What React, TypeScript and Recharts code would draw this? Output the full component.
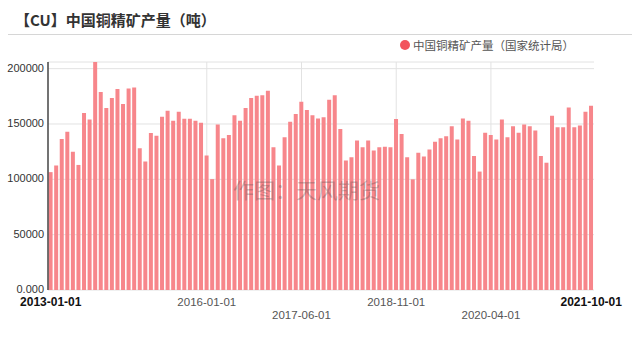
import { BarChart, Bar, XAxis, YAxis, CartesianGrid } from 'recharts'

// monthly output, tonnes
const outputTons = [
  106500, 112500, 136500, 143000, 125000, 113000, 160000, 154000, 206000, 179000,
  164500, 173500, 181500, 168000, 182000, 183000, 128000, 116000, 141800, 139400,
  156600, 162000, 153000, 161000, 154800, 154800, 153000, 151000, 121600, 100200,
  149600, 137000, 140000, 158000, 153000, 164500, 173500, 175600, 176000, 180000,
  129000, 112500, 138000, 152000, 159000, 170000, 162600, 158000, 155000, 156000,
  172000, 176000, 145400, 117000, 120000, 135000, 129000, 135000, 126000, 129000,
  129500, 129000, 154500, 141000, 120000, 100000, 124000, 120700, 127000, 134000,
  137000, 139000, 148000, 136000, 155000, 153000, 121000, 107000, 142000, 140000,
  136000, 154000, 138000, 148000, 142000, 149600, 148000, 144000, 121000, 115000,
  157500, 147000, 147000, 165000, 147000, 148700, 161000, 166500,
]

// months not published in the source series
const missingMonths = [
  '2013-02', '2014-01', '2014-02', '2014-12', '2015-01', '2015-02', '2015-07', '2015-08',
]

const xTickDates = ['2013-01-01', '2016-01-01', '2017-06-01', '2018-11-01', '2020-04-01', '2021-10-01']
const gridDates = ['2016-01-01', '2017-06-01', '2018-11-01', '2020-04-01']
const yTicks = [0, 50000, 100000, 150000, 200000]

function buildDates() {
  const out: string[] = []
  for (let y = 2013; y <= 2021; y++) {
    for (let m = 1; m <= 12; m++) {
      if (y === 2021 && m > 10) break
      const ym = `${y}-${String(m).padStart(2, '0')}`
      if (missingMonths.includes(ym)) continue
      out.push(`${ym}-01`)
    }
  }
  return out
}

const dates = buildDates()
const rows = dates.map((date, i) => ({ date, output: outputTons[i] }))

const latin = '"Liberation Sans", Arial, sans-serif'
const cjk = '"Noto Sans CJK SC", "Liberation Sans", sans-serif'

function DateTick(props: any) {
  const { x, y, payload, index } = props
  const edge = index === 0 || payload.value === xTickDates[xTickDates.length - 1]
  const lower = !edge && index % 2 === 0
  return (
    <text
      x={x}
      y={y + (lower ? 28.5 : 15.5)}
      textAnchor="middle"
      fontFamily={latin}
      fontSize={edge ? 12 : 11.5}
      fontWeight={edge ? 'bold' : 'normal'}
      fill={edge ? '#111' : '#555'}
    >
      {payload.value}
    </text>
  )
}

export default function App() {
  return (
    <div
      style={{
        position: 'absolute',
        left: 0,
        top: 0,
        width: 640,
        height: 340,
        background: '#fff',
        overflow: 'hidden',
      }}
    >
      <div
        style={{
          position: 'absolute',
          left: 15,
          top: 10,
          lineHeight: '20px',
          fontSize: 15,
          fontWeight: 'bold',
          color: '#333',
          fontFamily: cjk,
        }}
      >
        【CU】中国铜精矿产量（吨）
      </div>
      <div style={{ position: 'absolute', left: 8, top: 34, width: 624, height: 1, background: '#d6d6d6' }} />

      <BarChart
        width={640}
        height={340}
        data={rows}
        margin={{ top: 62, right: 46, bottom: 20, left: 0 }}
        barCategoryGap={0.6}
      >
        <CartesianGrid
          stroke="#e2e2e2"
          verticalCoordinatesGenerator={({ offset }: any) =>
            gridDates.map((d) => offset.left + (dates.indexOf(d) + 0.5) * (offset.width / dates.length))
          }
        />
        <XAxis
          dataKey="date"
          ticks={xTickDates}
          interval={0}
          axisLine={false}
          tickLine={false}
          tickSize={0}
          tickMargin={0}
          tick={<DateTick />}
        />
        <YAxis
          width={48}
          domain={[0, 'dataMax']}
          ticks={yTicks}
          axisLine={{ stroke: '#444', strokeWidth: 1.5 }}
          tickLine={false}
          tickSize={2}
          tickMargin={2}
          tick={{ fontSize: 11, fill: '#333', fontFamily: latin, dy: -1 }}
          tickFormatter={(v) => (v === 0 ? '0.000' : String(v))}
        />
        <Bar dataKey="output" fill="#f7868b" isAnimationActive={false} />
      </BarChart>

      <div
        style={{
          position: 'absolute',
          left: 400,
          top: 37,
          display: 'flex',
          alignItems: 'center',
          height: 16,
          fontFamily: cjk,
          fontSize: 11.5,
          color: '#555',
        }}
      >
        <span
          style={{ width: 10, height: 10, borderRadius: 5, background: '#f2535c', marginRight: 3 }}
        />
        中国铜精矿产量（国家统计局）
      </div>

      <div
        style={{
          position: 'absolute',
          left: 233,
          top: 175,
          fontFamily: cjk,
          fontSize: 21,
          lineHeight: '28px',
          color: 'rgba(70, 70, 70, 0.3)',
          pointerEvents: 'none',
          whiteSpace: 'nowrap',
        }}
      >
        作图：天风期货
      </div>
    </div>
  )
}
